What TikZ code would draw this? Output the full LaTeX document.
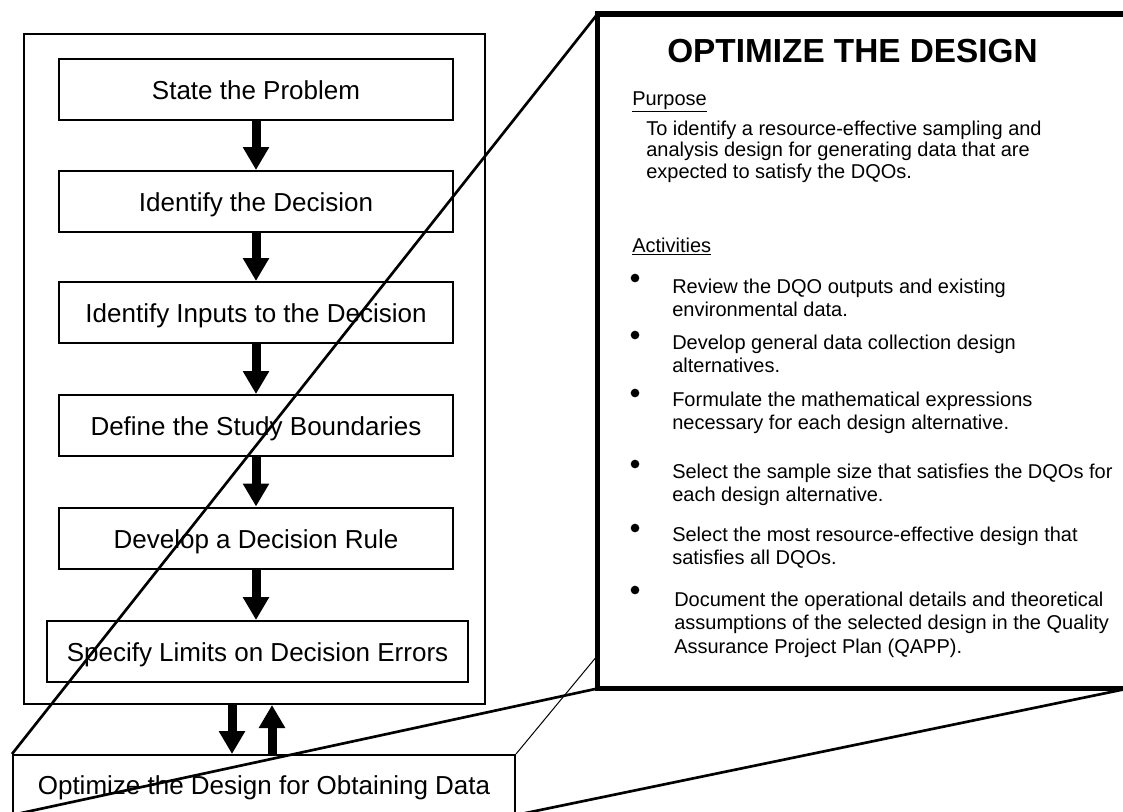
\documentclass[tikz,border=0pt]{standalone}
\usepackage{fontspec}
\setmainfont{Liberation Sans}
\usetikzlibrary{%
  arrows.meta,%
  calc%
}
\tikzset{>={Triangle[width=18.75pt,length=17.25pt]},
  stepbox/.style = {draw, line width=1.5pt, minimum width=295.5pt,
    minimum height=45.75pt, inner sep=0pt, text height=15pt, text depth=0pt,
    font=\fontsize{19.5}{23}\selectfont},
  flow/.style = {line width=6.75pt, ->},
  zoomline/.style = {line width=2pt},
  bodytxt/.style = {inner sep=0pt, align=left, font=\fontsize{15}{16.1}\selectfont},
  itemtxt/.style = {inner sep=0pt, align=left, font=\fontsize{15}{17.5}\selectfont},
  bullet/.style = {circle, fill, inner sep=0pt, minimum size=6.5pt}}

\begin{document}
\begin{tikzpicture}[x=0.75pt, y=-0.75pt]
    \useasboundingbox (0,0) rectangle (1123,811);
    \clip (0,0) rectangle (1123,811);
    % the seven steps
    \node[draw, line width=1.5pt, minimum width=345.75pt, minimum height=502.5pt] (outer) at (254.5,369) {};
    \node[stepbox] (state) at (256,89.5) {State the Problem};
    \node[stepbox] (decision) at (256,201.5) {Identify the Decision};
    \node[stepbox] (inputs) at (256,312.5) {Identify Inputs to the Decision};
    \node[stepbox] (bounds) at (256,425.5) {Define the Study Boundaries};
    \node[stepbox] (rule) at (256,538) {Develop a Decision Rule};
    \node[stepbox, minimum width=315.75pt] (limits) at (257.5,651.5) {Specify Limits on Decision Errors};
    \draw[flow] (state) -- (decision);
    \draw[flow] (decision) -- (inputs);
    \draw[flow] (inputs) -- (bounds);
    \draw[flow] (bounds) -- (rule);
    \draw[flow] (rule) -- (rule |- limits.north);
    \node[stepbox, minimum width=376.5pt, minimum height=44.25pt] (optim) at (264,784.5) {Optimize the Design for Obtaining Data};
    \coordinate (dn) at (232,0);
    \coordinate (up) at (272,0);
    \draw[flow] (outer.south -| dn) -- (optim.north -| dn);
    \draw[flow] (optim.north -| up) -- (outer.south -| up);
    % zoom lines
    \coordinate (bigNW) at (597.5,14);
    \coordinate (bigNE) at (1128,14);
    \coordinate (bigSW) at (597.5,688.5);
    \coordinate (bigSE) at (1128,688.5);
    \draw[zoomline] (optim.north west) -- (bigNW);
    \draw[zoomline] (optim.south west) -- (bigSW);
    \draw[line width=0.75pt] (optim.north east) -- (bigNE);
    \draw[zoomline] (optim.south east) -- (bigSE);
    % the enlarged step (base = last line)
    \node[draw, fill=white, line width=4.1pt, minimum width=397.9pt, minimum height=505.9pt] (big) at (862.75,351.25) {};
    \node[inner sep=0pt, anchor=base, font=\fontsize{25}{28}\selectfont\bfseries] (title) at (852.5,62) {OPTIMIZE THE DESIGN};
    \node[bodytxt, anchor=base west] (purpose) at (632,105) {\underline{Purpose}};
    \node[bodytxt, anchor=base west] (purposetxt) at (646,178) {To identify a resource-effective sampling and\\analysis design for generating data that are\\expected to satisfy the DQOs.};
    \node[bodytxt, anchor=base west] (activities) at (632,252) {\underline{Activities}};
    \node[bullet] (b1) at (635,278) {};
    \node[itemtxt, anchor=base west] (a1) at (672,316.8) {Review the DQO outputs and existing\\environmental data.};
    \node[bullet] (b2) at (635,335) {};
    \node[itemtxt, anchor=base west] (a2) at (672,372.8) {Develop general data collection design\\alternatives.};
    \node[bullet] (b3) at (635,393) {};
    \node[itemtxt, anchor=base west] (a3) at (672,429.8) {Formulate the mathematical expressions\\necessary for each design alternative.};
    \node[bullet] (b4) at (635,464) {};
    \node[itemtxt, anchor=base west] (a4) at (672,501.8) {Select the sample size that satisfies the DQOs for\\each design alternative.};
    \node[bullet] (b5) at (635,528) {};
    \node[itemtxt, anchor=base west] (a5) at (672,564.8) {Select the most resource-effective design that\\satisfies all DQOs.};
    \node[bullet] (b6) at (635,590) {};
    \node[itemtxt, anchor=base west] (a6) at (674,653.2) {Document the operational details and theoretical\\assumptions of the selected design in the Quality\\Assurance Project Plan (QAPP).};
\end{tikzpicture}
\end{document}
